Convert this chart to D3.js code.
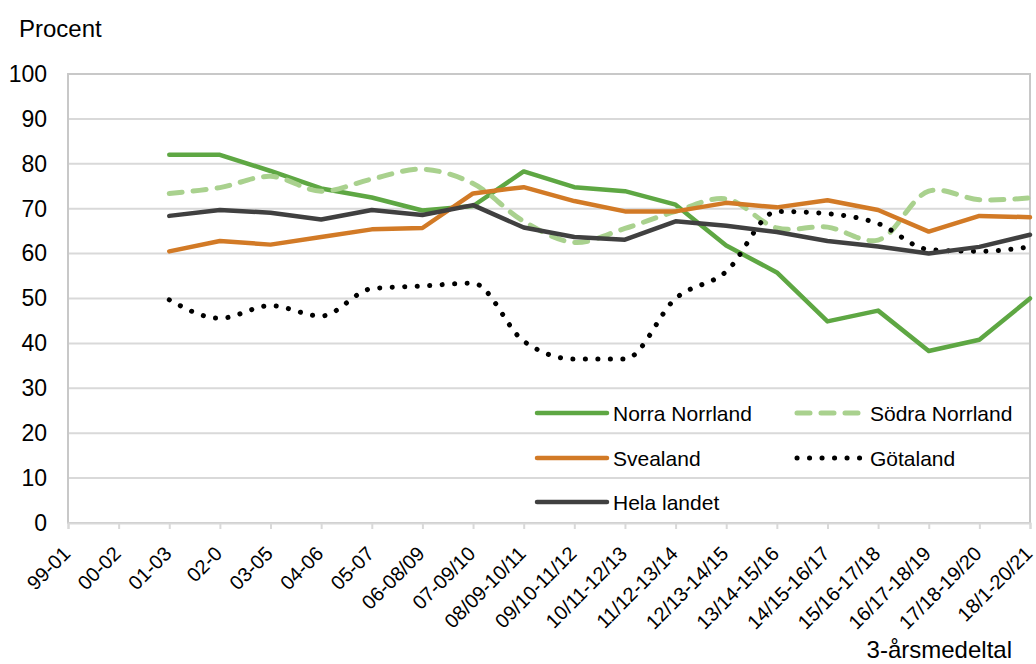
<!DOCTYPE html>
<html>
<head>
<meta charset="utf-8">
<script src="https://cdn.jsdelivr.net/npm/d3@7"></script>
<style>
  body { margin: 0; background: #fff; }
  text { font-family: "Liberation Sans", Arial, sans-serif; fill: #000; }
</style>
</head>
<body>
<div id="vis"></div>
<script>
const FRAME_WIDTH = 1036;
const FRAME_HEIGHT = 664;
const MARGINS = {left: 68, right: 6, top: 74, bottom: 141};

const VIS_WIDTH = FRAME_WIDTH - MARGINS.left - MARGINS.right;
const VIS_HEIGHT = FRAME_HEIGHT - MARGINS.top - MARGINS.bottom;

// category labels (3-year averages)
const periods = ["99-01", "00-02", "01-03", "02-0", "03-05", "04-06", "05-07",
  "06-08/09", "07-09/10", "08/09-10/11", "09/10-11/12", "10/11-12/13",
  "11/12-13/14", "12/13-14/15", "13/14-15/16", "14/15-16/17", "15/16-17/18",
  "16/17-18/19", "17/18-19/20", "18/1-20/21"];

const yTicks = [0, 10, 20, 30, 40, 50, 60, 70, 80, 90, 100];

// series values (percent), null = no data
const norraNorrland = [null, null, 82.0, 82.0, 78.4, 74.5, 72.5, 69.6, 70.6, 78.3,
  74.8, 73.9, 70.9, 61.8, 55.8, 44.9, 47.3, 38.3, 40.8, 50.0];
const sodraNorrland = [null, null, 73.4, 74.7, 77.2, 73.9, 76.6, 78.8, 75.6, 67.2,
  62.5, 65.6, 69.4, 72.2, 65.7, 65.9, 63.0, 73.9, 72.0, 72.4];
const svealand = [null, null, 60.5, 62.8, 62.0, 63.7, 65.4, 65.7, 73.4, 74.8,
  71.7, 69.4, 69.4, 71.3, 70.3, 71.9, 69.7, 64.9, 68.4, 68.1];
const gotaland = [null, null, 49.7, 45.6, 48.4, 46.1, 52.2, 52.8, 53.4, 40.5,
  36.5, 36.5, 50.0, 56.0, 69.4, 68.9, 66.7, 60.9, 60.5, 61.5];
const helaLandet = [null, null, 68.4, 69.7, 69.1, 67.6, 69.7, 68.6, 70.8, 65.8,
  63.7, 63.1, 67.2, 66.2, 64.8, 62.8, 61.6, 60.0, 61.5, 64.2];

const SERIES = [
  {name: "Norra Norrland", values: norraNorrland, color: "#5ea743", width: 4.5, dash: null, curve: d3.curveLinear},
  {name: "Södra Norrland", values: sodraNorrland, color: "#a9d18e", width: 5, dash: "13,11", curve: d3.curveCatmullRom.alpha(0.5)},
  {name: "Svealand", values: svealand, color: "#d27a26", width: 4.5, dash: null, curve: d3.curveLinear},
  {name: "Götaland", values: gotaland, color: "#000000", width: 5, dash: "0.1,12.4", curve: d3.curveMonotoneX},
  {name: "Hela landet", values: helaLandet, color: "#404040", width: 4.5, dash: null, curve: d3.curveLinear}
];

const FRAME = d3.select("#vis")
  .append("svg")
    .attr("width", FRAME_WIDTH)
    .attr("height", FRAME_HEIGHT);

const X_SCALE = d3.scalePoint()
  .domain(periods)
  .range([0, VIS_WIDTH]);

const Y_SCALE = d3.scaleLinear()
  .domain([0, 100])
  .range([VIS_HEIGHT, 0]);

const PLOT = FRAME.append("g")
  .attr("transform", "translate(" + MARGINS.left + "," + MARGINS.top + ")");

// horizontal gridlines
PLOT.selectAll(".grid")
  .data(yTicks.filter(d => d > 0 && d < 100))
  .enter()
  .append("line")
    .attr("x1", 0)
    .attr("x2", VIS_WIDTH)
    .attr("y1", d => Y_SCALE(d))
    .attr("y2", d => Y_SCALE(d))
    .attr("stroke", "#d9d9d9")
    .attr("stroke-width", 2);

// plot border
PLOT.append("rect")
  .attr("x", 0)
  .attr("y", 0)
  .attr("width", VIS_WIDTH)
  .attr("height", VIS_HEIGHT)
  .attr("fill", "none")
  .attr("stroke", "#c8c8c8")
  .attr("stroke-width", 2);

// x axis
const xAxis = PLOT.append("g")
  .attr("transform", "translate(0," + VIS_HEIGHT + ")")
  .call(d3.axisBottom(X_SCALE).tickSize(6));
xAxis.select(".domain").attr("stroke", "#d9d9d9").attr("stroke-width", 2);
xAxis.selectAll(".tick line").attr("stroke", "#d9d9d9").attr("stroke-width", 2);
xAxis.selectAll(".tick text")
  .attr("font-size", "20px")
  .attr("fill", "#000")
  .attr("text-anchor", "end")
  .attr("x", 0)
  .attr("y", 0)
  .attr("dy", "0")
  .attr("transform", "translate(3,32) rotate(-45)");

// y axis labels
const yAxis = PLOT.append("g")
  .call(d3.axisLeft(Y_SCALE).tickValues(yTicks).tickSize(0).tickPadding(21));
yAxis.select(".domain").remove();
yAxis.selectAll(".tick text")
  .attr("font-size", "23px")
  .attr("fill", "#000");

// lines
SERIES.forEach(s => {
  const line = d3.line()
    .defined(d => d != null)
    .x((d, i) => X_SCALE(periods[i]))
    .y(d => Y_SCALE(d))
    .curve(s.curve);
  PLOT.append("path")
    .datum(s.values)
    .attr("d", line)
    .attr("fill", "none")
    .attr("stroke", s.color)
    .attr("stroke-width", s.width)
    .attr("stroke-linecap", "round")
    .attr("stroke-linejoin", "round")
    .attr("stroke-dasharray", s.dash);
});

// legend
const LEGEND_POS = [[535, 413], [793, 413], [535, 458], [793, 458], [535, 502]];
const legend = FRAME.selectAll(".legend")
  .data(SERIES)
  .enter()
  .append("g")
    .attr("transform", (d, i) => "translate(" + LEGEND_POS[i][0] + "," + LEGEND_POS[i][1] + ")");

legend.append("line")
  .attr("x1", d => d.dash ? 4 : 2)
  .attr("x2", 72)
  .attr("y1", 0)
  .attr("y2", 0)
  .attr("stroke", d => d.color)
  .attr("stroke-width", d => d.width)
  .attr("stroke-linecap", "round")
  .attr("stroke-dasharray", d => d.dash);

legend.append("text")
  .attr("x", d => d.dash ? 77 : 78)
  .attr("y", 8)
  .attr("font-size", "21px")
  .text(d => d.name);

// axis titles
FRAME.append("text")
  .attr("x", 19)
  .attr("y", 37)
  .attr("font-size", "24px")
  .text("Procent");

FRAME.append("text")
  .attr("x", 1012)
  .attr("y", 658)
  .attr("text-anchor", "end")
  .attr("font-size", "24px")
  .text("3-årsmedeltal");
</script>
</body>
</html>
